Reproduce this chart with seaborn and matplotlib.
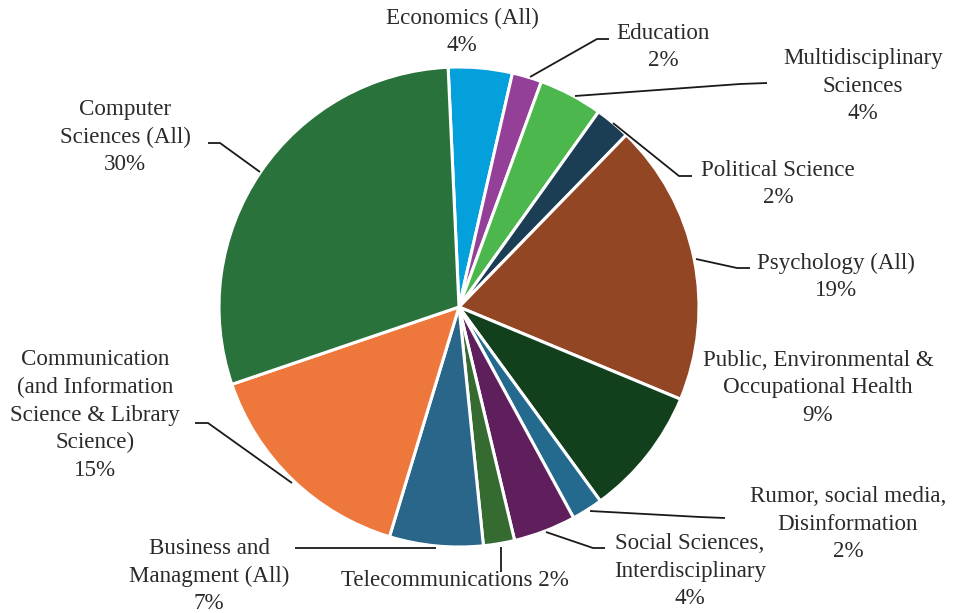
import matplotlib
matplotlib.use("Agg")
import matplotlib.pyplot as plt
import seaborn as sns

sns.set_theme(style="white")
plt.rcParams['font.family'] = ['Liberation Serif', 'DejaVu Serif']

# ---- data ----
categories = [
    "Economics (All)", "Education", "Multidisciplinary Sciences", "Political Science",
    "Psychology (All)", "Public, Environmental & Occupational Health",
    "Rumor, social media, Disinformation", "Social Sciences, Interdisciplinary",
    "Telecommunications", "Business and Managment (All)",
    "Communication (and Information Science & Library Science)", "Computer Sciences (All)",
]
shares = [4.3, 2.0, 4.3, 2.4, 19.0, 8.7, 2.1, 4.2, 2.1, 6.3, 15.1, 29.5]
pct_labels = ["4%", "2%", "4%", "2%", "19%", "9%", "2%", "4%", "2%", "7%", "15%", "30%"]
label_text = [
    "Economics (All)\n4%",
    "Education\n2%",
    "Multidisciplinary\nSciences\n4%",
    "Political Science\n2%",
    "Psychology (All)\n19%",
    "Public, Environmental &\nOccupational Health\n9%",
    "Rumor, social media,\nDisinformation\n2%",
    "Social Sciences,\nInterdisciplinary\n4%",
    "Telecommunications 2%",
    "Business and\nManagment (All)\n7%",
    "Communication\n(and Information\nScience & Library\nScience)\n15%",
    "Computer\nSciences (All)\n30%",
]
colors = ["#03A0DC", "#943F98", "#4CB74C", "#1B3E55", "#934624", "#13401C",
          "#246A8E", "#5F1F5D", "#356B31", "#2A6689", "#EE773C", "#2A723B"]

# ---- layout (pixel coordinates, image y downward) ----
W, H = 955, 613
cx, cy, R = 459, 307, 240
text_pos = [(462, 32), (663, 47), (863, 86), (778, 184), (836, 277), (818, 388),
            (848, 524), (690, 571), (455, 580), (209, 576), (95, 415), (125, 137)]
leaders = [
    None,
    [(530, 77), (597, 39), (609, 39)],
    [(575, 96), (740, 84), (767, 83)],
    [(613, 123), (679, 176), (692, 176)],
    [(696, 259), (737, 268), (750, 268)],
    None,
    [(590, 511), (700, 517), (725, 518)],
    [(546, 532), (593, 548), (605, 548)],
    [(501, 547), (501, 572)],
    [(436, 548), (295, 548)],
    [(292, 483), (208, 423), (195, 423)],
    [(260, 172), (220, 143), (208, 143)],
]

fig = plt.figure(figsize=(W / 100, H / 100), dpi=100)
ax = fig.add_axes([0, 0, 1, 1])

start = 90 + 2.6
ax.pie(shares, colors=colors, startangle=start, counterclock=False,
       center=(cx, H - cy), radius=R,
       wedgeprops=dict(edgecolor="white", linewidth=2.2))
ax.set_xlim(0, W)
ax.set_ylim(0, H)
ax.set_aspect("equal")
ax.axis("off")

txt_color = "#2a2a2a"
for txt, (tx, ty), ld in zip(label_text, text_pos, leaders):
    ax.text(tx, H - ty, txt, ha="center", va="center", fontsize=16.6,
            color=txt_color, linespacing=1.42, multialignment="center")
    if ld:
        xs = [p[0] for p in ld]
        ys = [H - p[1] for p in ld]
        ax.plot(xs, ys, color="#1a1a1a", lw=1.3, solid_capstyle="butt")

fig.savefig("out.png", dpi=100, facecolor="white")
